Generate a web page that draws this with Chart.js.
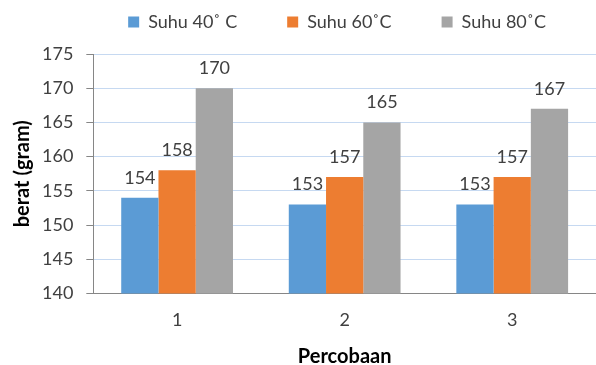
<!DOCTYPE html>
<html>
<head>
<meta charset="utf-8">
<script src="https://cdn.jsdelivr.net/npm/chart.js@4"></script>
<style>
  html, body { margin: 0; padding: 0; background: #fff; }
  #wrap { width: 596px; height: 365px; }
</style>
</head>
<body>
<div id="wrap"><canvas id="myChart1"></canvas></div>
<script>
const categories = ['1', '2', '3'];
const suhu40 = [154, 153, 153];
const suhu60 = [158, 157, 157];
const suhu80 = [170, 165, 167];
const seriesNames = ['Suhu 40\u02DA C', 'Suhu 60\u02DAC', 'Suhu 80\u02DAC'];
const yTicks = [140, 145, 150, 155, 160, 165, 170, 175];

const fontName = 'Lato, "Liberation Sans", sans-serif';

// draws the value above every bar
const barLabels = {
    id: 'barLabels',
    afterDatasetsDraw(chart) {
        const c = chart.ctx;
        c.save();
        c.font = '18px ' + fontName;
        c.fillStyle = '#404040';
        c.textAlign = 'center';
        c.textBaseline = 'alphabetic';
        chart.data.datasets.forEach((ds, i) => {
            chart.getDatasetMeta(i).data.forEach((bar, j) => {
                c.fillText(ds.data[j], bar.x, bar.y - 14);
            });
        });
        c.restore();
    }
};

// extra room between legend and plot
const legendGap = {
    id: 'legendGap',
    beforeLayout(chart) {
        const lg = chart.legend;
        if (lg && !lg._gapDone) {
            const fit = lg.fit;
            lg.fit = function () { fit.call(this); this.height += 13; };
            lg._gapDone = true;
        }
    }
};

const ctx = document.getElementById('myChart1');

new Chart(ctx, {
    type: 'bar',
    data: {
        labels: categories,
        datasets: [
            { label: seriesNames[0], data: suhu40, backgroundColor: '#5b9bd5' },
            { label: seriesNames[1], data: suhu60, backgroundColor: '#ed7d31' },
            { label: seriesNames[2], data: suhu80, backgroundColor: '#a5a5a5' }
        ]
    },
    options: {
        responsive: true,
        maintainAspectRatio: false,
        animation: false,
        categoryPercentage: 0.667,
        barPercentage: 1,
        layout: { padding: { top: -37, right: 0, bottom: -4, left: 0 } },
        plugins: {
            legend: {
                position: 'top',
                align: 'end',
                labels: {
                    boxWidth: 11,
                    boxHeight: 11,
                    padding: 50,
                    color: '#404040',
                    font: { family: fontName, size: 18 }
                }
            },
            tooltip: { enabled: false }
        },
        scales: {
            x: {
                grid: { display: false, drawTicks: false },
                border: { display: true, color: '#868686' },
                ticks: { color: '#404040', font: { family: fontName, size: 18 }, padding: 16 },
                title: {
                    display: true,
                    text: 'Percobaan',
                    color: '#000',
                    font: { family: fontName, size: 20, weight: 'bold' },
                    padding: { top: -2, bottom: 0 }
                }
            },
            y: {
                min: yTicks[0],
                max: yTicks[yTicks.length - 1],
                afterBuildTicks: axis => { axis.ticks = yTicks.map(v => ({ value: v })); },
                grid: { color: '#c6d9f1', tickColor: '#868686', tickLength: 7 },
                border: { display: true, color: '#868686' },
                ticks: { color: '#404040', font: { family: fontName, size: 18 }, padding: 13 },
                title: {
                    display: true,
                    text: 'berat (gram)',
                    color: '#000',
                    font: { family: fontName, size: 20, weight: 'bold' },
                    padding: { top: 11, bottom: -6 }
                }
            }
        }
    },
    plugins: [barLabels, legendGap]
});
</script>
</body>
</html>
